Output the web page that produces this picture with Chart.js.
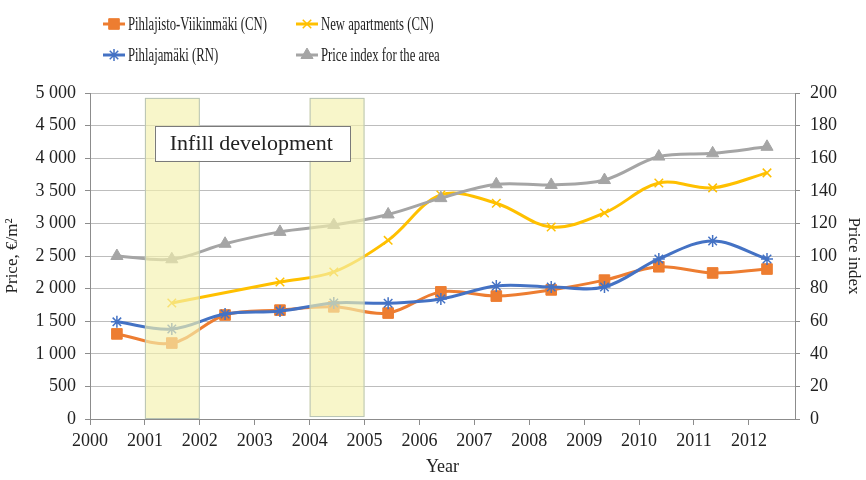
<!DOCTYPE html>
<html>
<head>
<meta charset="utf-8">
<script src="https://cdn.jsdelivr.net/npm/chart.js@4.4.1/dist/chart.umd.min.js"></script>
<style>
  html, body { margin: 0; padding: 0; background: #fff; }
  #wrap { width: 866px; height: 480px; }
</style>
</head>
<body>
<div id="wrap"><canvas id="priceChart"></canvas></div>
<script>
// x positions of the yearly observations (as they sit on the year axis)
var years = [2000.49, 2001.49, 2002.46, 2003.46, 2004.44, 2005.43, 2006.39, 2007.4, 2008.4, 2009.37, 2010.36, 2011.34, 2012.33];
var tickYears = [2000, 2001, 2002, 2003, 2004, 2005, 2006, 2007, 2008, 2009, 2010, 2011, 2012];
var pihlajisto = [1305, 1165, 1595, 1670, 1720, 1625, 1950, 1885, 1980, 2130, 2335, 2240, 2300];
var newApartments = [null, 1780, null, 2100, 2255, 2740, 3435, 3310, 2945, 3160, 3620, 3545, 3775];
var pihlajamaki = [1490, 1380, 1610, 1655, 1780, 1775, 1840, 2040, 2025, 2025, 2455, 2730, 2455];
var priceIndex = [100, 98, 107.5, 114.8, 119, 125.5, 135.5, 144, 143.6, 146.6, 161, 163, 167];
var infillPeriods = [[2001, 2002, 0], [2004, 2005, 30]];
var infillLabel = 'Infill development';

function pts(vals) {
  return vals.map(function (v, i) { return { x: years[i], y: v }; });
}
function spaced(v) {
  return String(v).replace(/\B(?=(\d{3})+(?!\d))/g, ' ');
}

var serif = '"Liberation Serif", "DejaVu Serif", serif';
var axisGray = '#8c8c8c';

var infillPlugin = {
  id: 'infill',
  afterDatasetsDraw: function (chart) {
    var ctx = chart.ctx, xs = chart.scales.x, ys = chart.scales.y;
    ctx.save();
    infillPeriods.forEach(function (p) {
      var x1 = xs.getPixelForValue(p[0]), x2 = xs.getPixelForValue(p[1]);
      var y1 = ys.getPixelForValue(4925), y2 = ys.getPixelForValue(p[2]);
      ctx.fillStyle = 'rgba(245,242,175,0.66)';
      ctx.fillRect(x1, y1, x2 - x1, y2 - y1);
      ctx.strokeStyle = '#b7c3b5';
      ctx.lineWidth = 1;
      ctx.strokeRect(x1 + 0.5, y1 + 0.5, x2 - x1 - 1, y2 - y1 - 1);
    });
    // label box
    var bx1 = xs.getPixelForValue(2001.18), bx2 = xs.getPixelForValue(2004.74);
    var by1 = ys.getPixelForValue(4495), by2 = ys.getPixelForValue(3960);
    ctx.fillStyle = '#fff';
    ctx.fillRect(bx1, by1, bx2 - bx1, by2 - by1);
    ctx.strokeStyle = '#7a7a7a';
    ctx.strokeRect(Math.round(bx1) + 0.5, Math.round(by1) + 0.5, Math.round(bx2 - bx1), Math.round(by2 - by1));
    ctx.fillStyle = '#222';
    ctx.font = '22px ' + serif;
    ctx.textAlign = 'left';
    ctx.textBaseline = 'middle';
    ctx.fillText(infillLabel, bx1 + 15, (by1 + by2) / 2 + 1);
    ctx.restore();
  }
};

// two-column legend, text is narrow in the original
var legendPlugin = {
  id: 'legend2col',
  afterDraw: function (chart) {
    var ctx = chart.ctx;
    var slots = [[103, 24], [296, 24], [103, 55], [296, 55]];
    ctx.save();
    chart.data.datasets.forEach(function (ds, k) {
      var x = slots[k][0], y = slots[k][1];
      ctx.strokeStyle = ds.borderColor;
      ctx.lineWidth = 3;
      ctx.beginPath();
      ctx.moveTo(x, y);
      ctx.lineTo(x + 22, y);
      ctx.stroke();
      ctx.fillStyle = ds.pointBackgroundColor;
      ctx.strokeStyle = ds.pointBorderColor;
      ctx.lineWidth = ds.pointBorderWidth;
      Chart.helpers.drawPoint(ctx, {
        pointStyle: ds.pointStyle, radius: ds.pointRadius, rotation: 0, borderWidth: ds.pointBorderWidth
      }, x + 11, y);
      ctx.save();
      ctx.translate(x + 25, y + 1);
      ctx.scale(0.67, 1);
      ctx.fillStyle = '#222';
      ctx.font = '19px ' + serif;
      ctx.textAlign = 'left';
      ctx.textBaseline = 'middle';
      ctx.fillText(ds.label, 0, 0);
      ctx.restore();
    });
    ctx.restore();
  }
};

var priceChart = new Chart(document.getElementById('priceChart'), {
  type: 'line',
  data: {
    datasets: [{
      label: 'Pihlajisto-Viikinmäki (CN)',
      data: pts(pihlajisto),
      yAxisID: 'y',
      borderColor: '#ED7D31',
      pointBackgroundColor: '#ED7D31',
      pointBorderColor: '#ED7D31',
      pointBorderWidth: 1,
      pointStyle: 'rect',
      pointRadius: 7.5,
      order: 4
    }, {
      label: 'New apartments (CN)',
      data: pts(newApartments),
      yAxisID: 'y',
      borderColor: '#FFC000',
      pointBackgroundColor: '#FFC000',
      pointBorderColor: '#FFC000',
      pointBorderWidth: 1.5,
      pointStyle: 'crossRot',
      pointRadius: 6,
      spanGaps: true,
      order: 3
    }, {
      label: 'Pihlajamäki (RN)',
      data: pts(pihlajamaki),
      yAxisID: 'y',
      borderColor: '#4472C4',
      pointBackgroundColor: '#4472C4',
      pointBorderColor: '#4472C4',
      pointBorderWidth: 1.5,
      pointStyle: 'star',
      pointRadius: 6,
      order: 2
    }, {
      label: 'Price index for the area',
      data: pts(priceIndex),
      yAxisID: 'y1',
      borderColor: '#A5A5A5',
      pointBackgroundColor: '#A5A5A5',
      pointBorderColor: '#A5A5A5',
      pointBorderWidth: 1,
      pointStyle: 'triangle',
      pointRadius: 7,
      order: 1
    }]
  },
  options: {
    responsive: true,
    maintainAspectRatio: false,
    animation: false,
    devicePixelRatio: 1,
    layout: { padding: { top: 93, left: 0, right: 0, bottom: 0 } },
    elements: {
      line: { borderWidth: 3, tension: 0.35, fill: false },
      point: { hoverRadius: 7 }
    },
    plugins: {
      legend: { display: false },
      tooltip: { enabled: false }
    },
    scales: {
      x: {
        type: 'linear',
        min: 2000,
        max: 2012.84,
        afterFit: function (s) { s.height = 61; },
        afterBuildTicks: function (s) {
          s.ticks = tickYears.map(function (v) { return { value: v }; });
        },
        ticks: {
          padding: 5,
          color: '#222',
          font: { family: serif, size: 18 },
          maxRotation: 0,
          autoSkip: false,
          callback: function (v) { return String(v); }
        },
        grid: { drawOnChartArea: false, drawTicks: true, tickLength: 6, tickColor: axisGray },
        border: { color: axisGray, width: 1 },
        title: { display: true, text: 'Year', color: '#222', font: { family: serif, size: 18 }, padding: { top: 0, bottom: 2 } }
      },
      y: {
        position: 'left',
        min: 0,
        max: 5000,
        afterFit: function (s) { s.width = 90; },
        ticks: {
          stepSize: 500,
          padding: 9,
          color: '#222',
          font: { family: serif, size: 18 },
          callback: function (v) { return spaced(v); }
        },
        grid: { color: '#bdbdbd', lineWidth: 1, tickLength: 5, tickColor: axisGray },
        border: { color: axisGray, width: 1 },
        title: { display: true, text: 'Price, €/m²', color: '#222', font: { family: serif, size: 17 }, padding: { top: 2, bottom: 0 } }
      },
      y1: {
        position: 'right',
        min: 0,
        max: 200,
        afterFit: function (s) { s.width = 71; },
        ticks: {
          stepSize: 20,
          padding: 10,
          color: '#222',
          font: { family: serif, size: 18 }
        },
        grid: { drawOnChartArea: false, tickLength: 5, tickColor: axisGray },
        border: { color: axisGray, width: 1 },
        title: { display: true, text: 'Price index', color: '#222', font: { family: serif, size: 17 }, padding: { top: 2, bottom: 2 } }
      }
    }
  },
  plugins: [infillPlugin, legendPlugin]
});
</script>
</body>
</html>
